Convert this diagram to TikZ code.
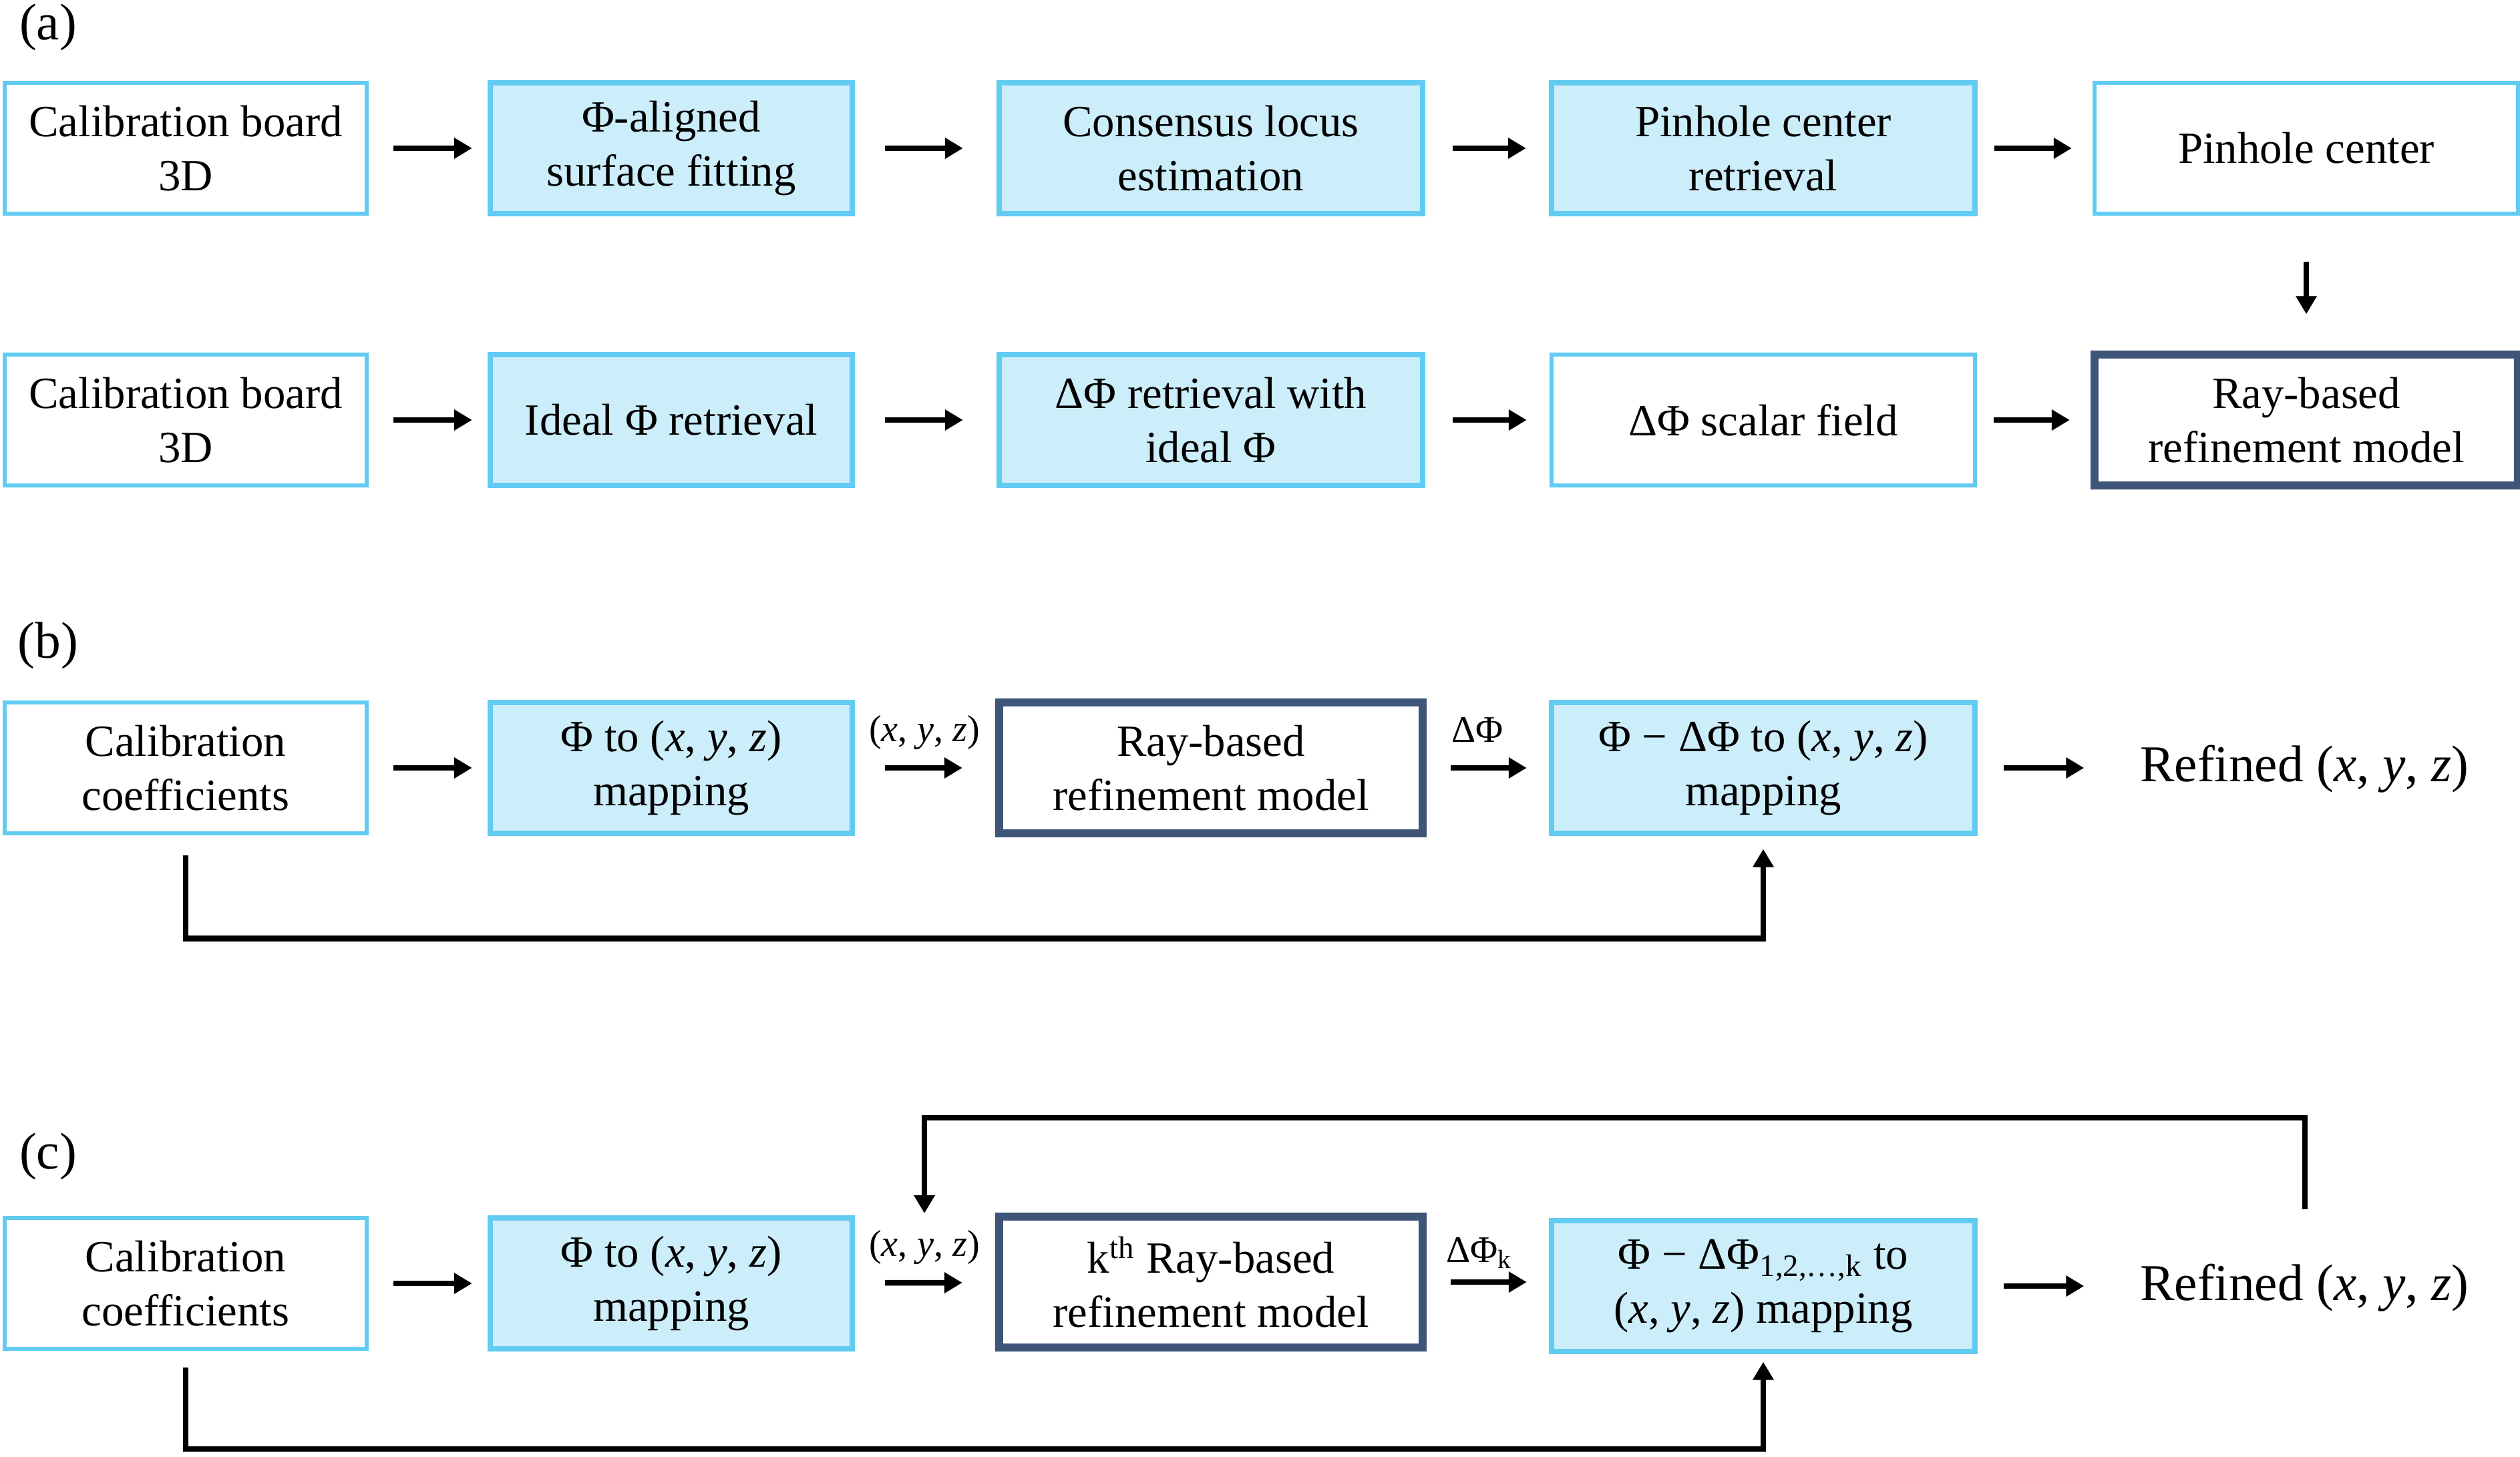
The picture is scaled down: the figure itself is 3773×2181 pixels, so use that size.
\documentclass[tikz,border=0pt]{standalone}
\usepackage{fontspec}
\setmainfont{Liberation Serif}
\usetikzlibrary{arrows.meta}
\definecolor{lb}{HTML}{62CBF1}
\definecolor{lbfill}{HTML}{CCEDFA}
\definecolor{dk}{HTML}{3E5478}
\newcommand{\xyz}{(\textit{x}, \textit{y}, \textit{z})}
\begin{document}
\begin{tikzpicture}[x=0.01cm,y=-0.01cm,
  pbox/.style={draw=lb, line width=0.06cm, fill=white, minimum height=1.95cm, inner sep=0pt, align=center, font=\fontsize{19}{23}\selectfont},
  fbox/.style={pbox, fill=lbfill, line width=0.08cm},
  dbox/.style={pbox, draw=dk, line width=0.12cm},
  narrow/.style={minimum width=5.42cm},
  wide/.style={minimum width=6.34cm},
  arr/.style={line width=0.085cm, -{Triangle[length=0.27cm,width=0.3cm]}},
  panel/.style={font=\fontsize{22}{26}\selectfont, inner sep=0pt},
  lab/.style={font=\fontsize{16}{19}\selectfont, inner sep=0pt},
  res/.style={font=\fontsize{22}{26}\selectfont, inner sep=0pt},
  dn/.style={yshift=-0.04cm}
]
\useasboundingbox (0,0) rectangle (3773,2181);

% panel labels
\node[panel] (pa) at (72,41) {(a)};
\node[panel] (pb) at (72,967) {(b)};
\node[panel] (pc) at (72,1732) {(c)};

% ---- (a) row 1
\node[pbox,narrow] (a11) at (278,222) {Calibration board\\3D};
\node[fbox,narrow] (a12) at (1005,222) {\raisebox{-0.15ex}{}Φ-aligned\\surface fitting};
\node[fbox,wide] (a13) at (1813,222) {Consensus locus\\estimation};
\node[fbox,wide] (a14) at (2640,222) {Pinhole center\\retrieval};
\node[pbox,wide] (a15) at (3453,222) {Pinhole center};
% ---- (a) row 2
\node[pbox,narrow] (a21) at (278,629) {Calibration board\\3D};
\node[fbox,narrow] (a22) at (1005,629) {Ideal Φ retrieval};
\node[fbox,wide] (a23) at (1813,629) {ΔΦ retrieval with\\ideal Φ};
\node[pbox,wide] (a24) at (2640,629) {ΔΦ scalar field};
\node[dbox,wide] (a25) at (3453,629) {Ray-based\\refinement model};

\draw[arr, shorten <=0.37cm, shorten >=0.23cm] (a11) -- (a12);
\draw[arr, shorten <=0.45cm, shorten >=0.50cm] (a12) -- (a13);
\draw[arr, shorten <=0.41cm, shorten >=0.34cm] (a13) -- (a14);
\draw[arr, shorten <=0.25cm, shorten >=0.31cm] (a14) -- (a15);
\draw[arr, shorten <=0.69cm, shorten >=0.55cm] (a15) -- (a25);
\draw[arr, shorten <=0.37cm, shorten >=0.23cm] (a21) -- (a22);
\draw[arr, shorten <=0.45cm, shorten >=0.50cm] (a22) -- (a23);
\draw[arr, shorten <=0.41cm, shorten >=0.34cm] (a23) -- (a24);
\draw[arr, shorten <=0.25cm, shorten >=0.31cm] (a24) -- (a25);

% ---- (b)
\node[pbox,narrow] (b1) at (278,1150) {Calibration\\coefficients};
\node[fbox,narrow] (b2) at (1005,1150) {Φ to \xyz\\mapping};
\node[dbox,wide] (b3) at (1813,1150) {Ray-based\\refinement model};
\node[fbox,wide] (b4) at (2640,1150) {Φ − ΔΦ to \xyz\\mapping};
\node[res] (b5) at (3450,1152) {Refined \xyz};
\node[lab] (bl1) at (1384,1097) {\xyz};
\node[lab] (bl2) at (2212,1093) {ΔΦ};

\draw[arr, shorten <=0.37cm, shorten >=0.23cm] (b1) -- (b2);
\draw[arr, shorten <=0.45cm, shorten >=0.49cm] (b2) -- (b3);
\draw[arr, shorten <=0.36cm, shorten >=0.33cm] (b3) -- (b4);
\draw[arr, shorten <=0.39cm, shorten >=0.83cm] (b4) -- (b4 -| b5.west);
\draw[arr, shorten >=0.2cm] ([yshift=-0.3cm]b1.south) -- ++(0,125) -| (b4.south);

% ---- (c)
\node[pbox,narrow] (c1) at (278,1922) {Calibration\\coefficients};
\node[fbox,narrow] (c2) at (1005,1922) {Φ to \xyz\\mapping};
\node[dbox,wide] (c3) at (1813,1920) {k\textsuperscript{th} Ray-based\\refinement model};
\node[fbox,wide] (c4) at (2640,1926) {Φ − ΔΦ\textsubscript{1,2,…,k} to\\\xyz{} mapping};
\node[res] (c5) at (3450,1929) {Refined \xyz};
\node[lab] (cl1) at (1384,1868) {\xyz};
\node[lab] (cl2) at (2215,1876) {ΔΦ\textsubscript{k}};
\coordinate (fbs) at (3451,1811);
\coordinate (fbe) at (1384,1817);

\draw[arr, shorten <=0.37cm, shorten >=0.23cm] (c1) -- (c2);
\draw[arr, shorten <=0.45cm, shorten >=0.49cm] (c2) -- (c3);
\draw[arr, shorten <=0.36cm, shorten >=0.33cm] (c3.east) -- (c3.east -| c4.west);
\draw[arr, shorten <=0.39cm, shorten >=0.83cm] (c4) -- (c4 -| c5.west);
\draw[arr, shorten >=0.12cm] ([yshift=-0.25cm]c1.south) -- (278,2170) -| (c4.south);
\draw[arr] (fbs) -- (3451,1674) -| (fbe);
\end{tikzpicture}
\end{document}
